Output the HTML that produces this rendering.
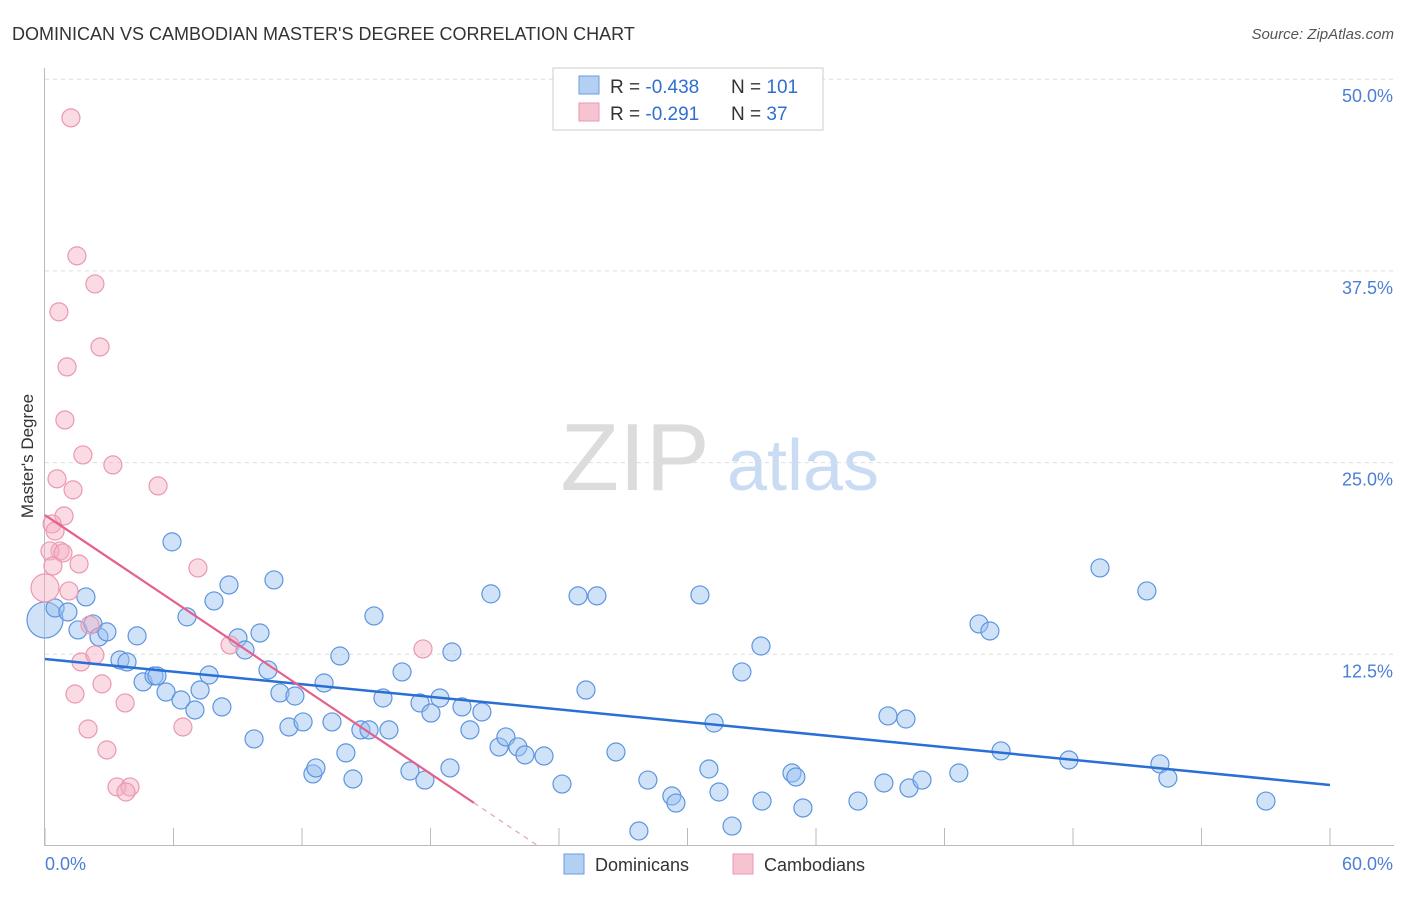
<!DOCTYPE html>
<html><head><meta charset="utf-8"><style>
body{margin:0;background:#fff;font-family:"Liberation Sans",sans-serif}
svg text{font-family:"Liberation Sans",sans-serif}
</style></head><body>
<svg id="chart" width="1406" height="892" viewBox="0 0 1406 892" xmlns="http://www.w3.org/2000/svg">
<text x="12" y="40" font-size="18" fill="#333">DOMINICAN VS CAMBODIAN MASTER'S DEGREE CORRELATION CHART</text>
<text x="1394" y="39" font-size="15" fill="#555" font-style="italic" text-anchor="end">Source: ZipAtlas.com</text>
<g>
<text x="635" y="490" font-size="96" fill="#dcdcdc" font-family="Liberation Serif" text-anchor="middle">ZIP</text>
<text x="803" y="490" font-size="72" fill="#c9dcf3" text-anchor="middle">atlas</text>
</g>
<g id="grid"></g>
<g id="axes"></g>
<g id="points"></g>
<g id="trends"></g>
<text transform="translate(33,456) rotate(-90)" font-size="17" fill="#333" text-anchor="middle">Master's Degree</text>
<g>
<rect x="553" y="68" width="270" height="62" fill="#fff" stroke="#ccc"/>
<rect x="579" y="76" width="20" height="18" fill="#b3cff2" stroke="#6b9ee0"/>
<rect x="579" y="103" width="20" height="18" fill="#f8c3d1" stroke="#ea9ab0"/>
<text x="610" y="93" font-size="19" fill="#333">R = <tspan fill="#2f6fd1">-0.438</tspan></text>
<text x="731" y="93" font-size="19" fill="#333">N = <tspan fill="#2f6fd1">101</tspan></text>
<text x="610" y="120" font-size="19" fill="#333">R = <tspan fill="#2f6fd1"> -0.291</tspan></text>
<text x="731" y="120" font-size="19" fill="#333">N = <tspan fill="#2f6fd1"> 37</tspan></text>
</g>
<g>
<rect x="564" y="854" width="20" height="20" fill="#b3cff2" stroke="#6b9ee0"/>
<text x="595" y="871" font-size="18" fill="#333">Dominicans</text>
<rect x="733" y="854" width="20" height="20" fill="#f8c3d1" stroke="#ea9ab0"/>
<text x="764" y="871" font-size="18" fill="#333">Cambodians</text>
</g>
</svg>
<script>
const yTicks=[12.5,25,37.5,50];
const yTickLabels=["12.5%","25.0%","37.5%","50.0%"];
const xTicks=[0,6,12,18,24,30,36,42,48,54,60];
const xEndLabels=["0.0%","60.0%"];
const blueX=[0,0.47,1.07,1.91,1.54,2.24,2.52,2.89,3.50,3.83,4.30,4.58,5.09,5.23,5.65,5.93,6.35,6.63,7.00,7.24,7.66,7.89,8.26,8.59,9.01,9.34,9.76,10.04,10.41,10.69,10.97,11.39,11.67,12.05,12.51,12.65,13.03,13.40,13.77,14.05,14.38,14.75,15.13,15.36,15.78,16.06,16.67,17.04,17.51,17.74,18.02,18.44,18.91,19.00,19.47,19.84,20.40,20.82,21.20,21.52,22.08,22.41,23.30,24.14,24.89,25.26,25.77,26.66,27.73,28.15,29.27,29.46,30.58,31.00,31.24,31.47,32.08,32.54,33.43,33.48,34.88,35.06,35.39,37.96,39.17,39.36,40.20,40.34,40.95,42.67,43.61,44.12,44.64,47.81,49.26,51.45,52.06,52.43,57.01];
const blueY=[14.74,15.52,15.26,16.24,14.09,14.48,13.63,13.96,12.13,12.00,13.70,10.70,11.09,11.09,10.04,19.83,9.52,14.94,8.87,10.17,11.15,15.98,9.07,17.02,13.57,12.78,6.98,13.89,11.48,17.35,9.98,7.76,9.78,8.09,4.70,5.09,10.63,8.09,12.39,6.07,4.37,7.57,7.57,15.00,9.65,7.57,11.35,4.89,9.33,4.30,8.67,9.65,5.09,12.65,9.07,7.57,8.74,16.44,6.46,7.11,6.46,5.94,5.87,4.04,16.31,10.17,16.31,6.13,0.98,4.30,3.26,2.80,16.37,5.02,8.02,3.52,1.30,11.35,13.04,2.93,4.76,4.50,2.48,2.93,4.11,8.48,8.28,3.78,4.30,4.76,14.48,14.02,6.20,5.61,18.13,16.63,5.35,4.43,2.93];
const pinkX=[1.21,1.49,2.33,0.65,2.57,1.03,0.93,1.77,3.17,0.56,1.31,5.28,0.89,0.33,0.47,0.70,0.23,0.84,1.59,0.37,0,1.12,7.14,2.10,1.68,2.33,2.66,1.40,3.74,2.01,6.44,2.89,8.64,17.65,3.36,3.97,3.78];
const pinkY=[47.48,38.48,36.65,34.83,32.54,31.24,27.78,25.50,24.85,23.94,23.22,23.48,21.52,21.00,20.54,19.24,19.24,19.11,18.39,18.26,16.83,16.63,18.13,14.41,12.00,12.46,10.57,9.91,9.33,7.63,7.76,6.26,13.11,12.85,3.85,3.85,3.52];
const blueTrend=[12.19,3.98];
const pinkTrend=[21.58,-0.937];
const pinkSolidEnd=20.03;

const NS="http://www.w3.org/2000/svg";
const X0=45,X1=1330,Y0=846,PXPERPCT=191.7/12.5;
function sx(v){return X0+(X1-X0)*v/60;}
function sy(v){return Y0-v*PXPERPCT;}
function mk(tag,attrs,parent){const e=document.createElementNS(NS,tag);for(const k in attrs)e.setAttribute(k,attrs[k]);parent.appendChild(e);return e;}
const grid=document.getElementById('grid'),axes=document.getElementById('axes'),pts=document.getElementById('points'),tr=document.getElementById('trends');
yTicks.forEach((t,i)=>{
 const l=mk('line',{x1:45,x2:1394,y1:sy(t),y2:sy(t),stroke:'#ddd','stroke-dasharray':'4,4'},grid);
 
 
 const tx=mk('text',{x:1393,y:sy(t)+23,'font-size':18,fill:'#4a7fd4','text-anchor':'end'},grid);
 tx.textContent=yTickLabels[i];
 
 
});
const ya=mk('line',{x1:44.5,x2:44.5,y1:68,y2:846,stroke:'#bbb'},axes);


const xa=mk('line',{x1:44,x2:1394,y1:845.5,y2:845.5,stroke:'#bbb'},axes);


xTicks.forEach(t=>{
 const l=mk('line',{x1:sx(t),x2:sx(t),y1:828,y2:846,stroke:'#bbb'},axes);
 
 
});
const xl0=mk('text',{x:45,y:870,'font-size':18,fill:'#4a7fd4'},axes);xl0.textContent=xEndLabels[0];


const xl1=mk('text',{x:1393,y:870,'font-size':18,fill:'#4a7fd4','text-anchor':'end'},axes);xl1.textContent=xEndLabels[1];


blueX.forEach((v,i)=>{
 const c=mk('circle',{cx:sx(v),cy:sy(blueY[i]),r:i===0?18:9,fill:'rgba(150,190,240,0.45)',stroke:'#5d95df','stroke-width':1.2},pts);
 
 
});
pinkX.forEach((v,i)=>{
 const c=mk('circle',{cx:sx(v),cy:sy(pinkY[i]),r:i===20?14:9,fill:'rgba(245,175,195,0.45)',stroke:'#eb98b0','stroke-width':1.2},pts);
 
 
});
const bl=mk('line',{x1:sx(0),y1:sy(blueTrend[0]),x2:sx(60),y2:sy(blueTrend[1]),stroke:'#2a6fd6','stroke-width':2.5},tr);


const pz=-pinkTrend[0]/pinkTrend[1];
const pl=mk('line',{x1:sx(0),y1:sy(pinkTrend[0]),x2:sx(pinkSolidEnd),y2:sy(pinkTrend[0]+pinkTrend[1]*pinkSolidEnd),stroke:'#e5608a','stroke-width':2.2},tr);


const pd=mk('line',{x1:sx(pinkSolidEnd),y1:sy(pinkTrend[0]+pinkTrend[1]*pinkSolidEnd),x2:sx(pz),y2:sy(0),stroke:'#e8a0b5','stroke-width':1.2,'stroke-dasharray':'5,5'},tr);


</script>
</body></html>
